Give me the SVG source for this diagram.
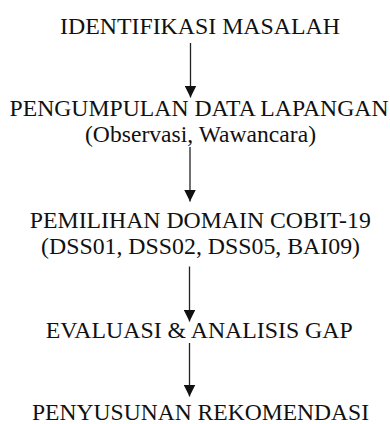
<svg xmlns="http://www.w3.org/2000/svg" width="390" height="424" viewBox="0 0 390 424">
<defs>
<style>
text{font-family:"Liberation Serif","Times New Roman",Times,serif;font-size:22.5px;fill:#111;text-anchor:middle}
.c line{stroke:#222;stroke-width:1.3}
</style>
<marker id="ah" markerWidth="12" markerHeight="12" viewBox="0 0 12 12" refX="12" refY="6" orient="auto" markerUnits="userSpaceOnUse">
<path d="M0,0 L12,6 L0,12 Z" fill="#111"/>
</marker>
</defs>
<rect width="390" height="424" fill="#fff"/>
<g class="c" id="connectors">
<line x1="190.5" y1="43" x2="190.5" y2="97.5" marker-end="url(#ah)"/>
<line x1="190" y1="147" x2="190" y2="201.5" marker-end="url(#ah)"/>
<line x1="189.5" y1="266.5" x2="189.5" y2="321.5" marker-end="url(#ah)"/>
<line x1="189.5" y1="343" x2="189.5" y2="396.5" marker-end="url(#ah)"/>
</g>
<g id="n1"><text x="200" y="33.5" textLength="280" lengthAdjust="spacingAndGlyphs">IDENTIFIKASI MASALAH</text></g>
<g id="n2"><text x="199" y="116" textLength="379" lengthAdjust="spacingAndGlyphs">PENGUMPULAN DATA LAPANGAN</text><text x="200.5" y="142" textLength="231" lengthAdjust="spacingAndGlyphs">(Observasi, Wawancara)</text></g>
<g id="n3"><text x="200.3" y="228" textLength="341" lengthAdjust="spacingAndGlyphs">PEMILIHAN DOMAIN COBIT-19</text><text x="200.5" y="254" textLength="319" lengthAdjust="spacingAndGlyphs">(DSS01, DSS02, DSS05, BAI09)</text></g>
<g id="n4"><text x="199.2" y="338" textLength="307" lengthAdjust="spacingAndGlyphs">EVALUASI &amp; ANALISIS GAP</text></g>
<g id="n5"><text x="200.5" y="420" textLength="337" lengthAdjust="spacingAndGlyphs">PENYUSUNAN REKOMENDASI</text></g>
</svg>
